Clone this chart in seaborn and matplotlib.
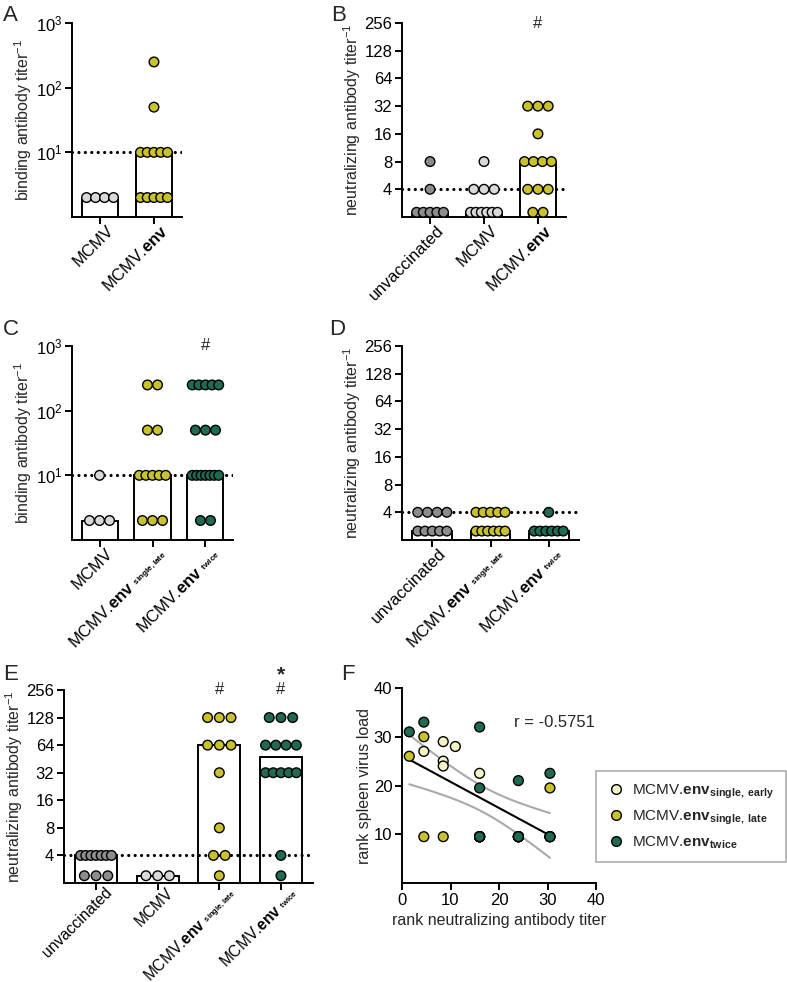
import warnings
warnings.filterwarnings('ignore')
import numpy as np
import pandas as pd
import matplotlib
matplotlib.use('Agg')
import matplotlib.pyplot as plt
import matplotlib.transforms as mtransforms
import seaborn as sns
from matplotlib.lines import Line2D
from matplotlib.ticker import NullLocator

sns.set_theme(style='ticks')
plt.rcParams['font.family'] = ['Liberation Sans', 'DejaVu Sans']
plt.rcParams['mathtext.fontset'] = 'custom'
plt.rcParams['mathtext.rm'] = 'Liberation Sans'
plt.rcParams['mathtext.it'] = 'Liberation Sans:italic'
plt.rcParams['mathtext.bf'] = 'Liberation Sans:bold'
plt.rcParams['mathtext.sf'] = 'Liberation Sans'

# ---------------- labels ----------------
LBL_UNVAC = 'unvaccinated'
LBL_MCMV = 'MCMV'
LBL_ENV = r'MCMV.$\mathbf{env}$'
LBL_LATE = r'MCMV.$\mathbf{env}\ {}_{{}^{\mathbf{single,late}}}$'
LBL_TWICE = r'MCMV.$\mathbf{env}\ {}_{{}^{\mathbf{twice}}}$'

# ---------------- colours ----------------
C_UNVAC = '#8c8c8c'
C_MCMV = '#d9d9d9'
C_ENV = '#c9c22b'
C_TWICE = '#1e6b50'
C_EARLY = '#f6f2c4'

# ---------------- data ----------------
# Panel A: binding antibody titer
A_cats = [LBL_MCMV, LBL_ENV]
A_mcmv = [2, 2, 2, 2]
A_env = [250, 50, 10, 10, 10, 10, 10, 2, 2, 2, 2, 2]

# Panel B: neutralizing antibody titer
B_cats = [LBL_UNVAC, LBL_MCMV, LBL_ENV]
B_unvac = [8, 4, 2.25, 2.25, 2.25, 2.25, 2.25]
B_mcmv = [8, 4, 4, 4, 2.25, 2.25, 2.25, 2.25, 2.25, 2.25]
B_env = [32, 32, 32, 16, 8, 8, 8, 8, 4, 4, 4, 2.25, 2.25]

# Panel C: binding antibody titer
C_cats = [LBL_MCMV, LBL_LATE, LBL_TWICE]
C_mcmv = [10, 2, 2, 2]
C_late = [250, 250, 50, 50, 10, 10, 10, 10, 10, 2, 2, 2]
C_twice = [250, 250, 250, 250, 250, 50, 50, 50, 10, 10, 10, 10, 10, 10, 10, 2, 2]

# Panel D: neutralizing antibody titer
D_cats = [LBL_UNVAC, LBL_LATE, LBL_TWICE]
D_unvac = [4, 4, 4, 4, 2.5, 2.5, 2.5, 2.5, 2.5]
D_late = [4, 4, 4, 4, 4, 2.5, 2.5, 2.5, 2.5, 2.5, 2.5]
D_twice = [4, 2.5, 2.5, 2.5, 2.5, 2.5, 2.5]

# Panel E: neutralizing antibody titer
E_cats = [LBL_UNVAC, LBL_MCMV, LBL_LATE, LBL_TWICE]
E_unvac = [4, 4, 4, 4, 4, 4, 4, 2.4, 2.4, 2.4]
E_mcmv = [2.4, 2.4, 2.4]
E_late = [128, 128, 128, 64, 64, 64, 32, 8, 4, 4, 2.4]
E_twice = [128, 128, 128, 64, 64, 64, 64, 32, 32, 32, 32, 32, 4, 2.4]

# Panel F: rank correlation
F_early = 'early'
F_late = 'late'
F_twice = 'twice'
F_order = [F_early, F_late, F_twice]
F_labels = [r'MCMV.$\mathbf{env}_{\mathbf{single,\ early}}$',
            r'MCMV.$\mathbf{env}_{\mathbf{single,\ late}}$',
            r'MCMV.$\mathbf{env}_{\mathbf{twice}}$']
F_early_x = [4.5, 8.5, 8.5, 8.5, 11, 16, 16, 16]
F_early_y = [27, 29, 25, 24, 28, 22.5, 9.5, 9.5]
F_late_x = [1.5, 4.5, 4.5, 8.5, 16, 24, 24, 24, 30.5, 30.5, 30.5]
F_late_y = [26, 30, 9.5, 9.5, 9.5, 9.5, 9.5, 9.5, 19.5, 9.5, 9.5]
F_twice_x = [1.5, 4.5, 16, 16, 16, 16, 16, 24, 24, 24, 24, 30.5, 30.5, 30.5]
F_twice_y = [31, 33, 32, 19.5, 9.5, 9.5, 9.5, 21, 9.5, 9.5, 9.5, 22.5, 9.5, 9.5]
F_r_text = 'r = -0.5751'

# ---------------- figure ----------------
W, H = 787, 982
fig = plt.figure(figsize=(W / 100, H / 100), dpi=100)


def add_ax(x0, x1, y0, y1):
    return fig.add_axes([x0 / W, 1 - y1 / H, (x1 - x0) / W, (y1 - y0) / H])


LW = 1.4
FS_T = 12
FS_L = 11.5


def style_axis(ax):
    sns.despine(ax=ax)
    for s in ['left', 'bottom']:
        ax.spines[s].set_linewidth(LW)
        ax.spines[s].set_color('black')
    ax.tick_params(width=LW, length=5, labelsize=FS_T, color='black',
                   labelcolor='black', pad=2)


def dodge(idx, values, span=0.5, step=0.19):
    """Horizontal scatter-dot layout: equal values side by side (GraphPad style)."""
    vals = np.asarray(values, float)
    xs = np.empty(len(vals))
    for v in np.unique(vals):
        m = np.where(vals == v)[0]
        k = len(m)
        st = min(step, span / (k - 1)) if k > 1 else 0.0
        xs[m] = idx + (np.arange(k) - (k - 1) / 2) * st
    return xs


def bar_panel(ax, cats, vals, colors, base, ylim, yticks, ytlabels, lod, ylabel,
              shift=(6, 4), xfs=FS_T):
    ax.set_yscale('log', base=base)
    groups, titers, xpos = [], [], []
    for i, (c, v) in enumerate(zip(cats, vals)):
        groups += [c] * len(v)
        titers += list(v)
        xpos += list(dodge(i, v))
    df = pd.DataFrame({'group': groups, 'titer': titers, 'xpos': xpos})
    med = df.groupby('group', sort=False)['titer'].median().reindex(cats).reset_index()
    med['pos'] = np.arange(len(cats))
    sns.barplot(data=med, x='pos', y='titer', native_scale=True, color='white',
                edgecolor='black', linewidth=LW, width=0.68, ax=ax, zorder=1,
                saturation=1)
    ax.axhline(lod, color='black', lw=2.3, ls=(0, (0.01, 2.0)),
               dash_capstyle='round', zorder=2)
    sns.scatterplot(data=df, x='xpos', y='titer', hue='group', hue_order=cats,
                    palette=dict(zip(cats, colors)), s=48, edgecolor='black',
                    linewidth=1.0, ax=ax, legend=False, zorder=3, clip_on=False)
    n = len(cats)
    ax.set_xlim(-0.52, n - 1 + 0.52)
    ax.set_ylim(*ylim)
    ax.yaxis.set_minor_locator(NullLocator())
    ax.xaxis.set_minor_locator(NullLocator())
    ax.set_yticks(yticks)
    ax.set_yticklabels(ytlabels)
    ax.set_xticks(range(n))
    ax.set_xlabel('')
    ax.set_ylabel(ylabel, fontsize=FS_L, labelpad=1)
    style_axis(ax)
    ax.set_xticklabels(cats, rotation=45, ha='right', rotation_mode='anchor',
                       fontsize=xfs)
    off = mtransforms.ScaledTranslation(shift[0] / 100, shift[1] / 100,
                                        fig.dpi_scale_trans)
    for lbl in ax.get_xticklabels():
        lbl.set_transform(lbl.get_transform() + off)


YL_BIND = r'binding antibody titer$^{-1}$'
YL_NEUT = r'neutralizing antibody titer$^{-1}$'
LOG10_T = [10, 100, 1000]
LOG10_L = [r'$10^1$', r'$10^2$', r'$10^3$']
LOG2_T = [4, 8, 16, 32, 64, 128, 256]
LOG2_L = [str(t) for t in LOG2_T]

# A
axA = add_ax(72, 182, 23, 217)
bar_panel(axA, A_cats, [A_mcmv, A_env], [C_MCMV, C_ENV], 10, (1, 1000),
          LOG10_T, LOG10_L, 10, YL_BIND)

# B
axB = add_ax(402, 566, 23, 217)
bar_panel(axB, B_cats, [B_unvac, B_mcmv, B_env], [C_UNVAC, C_MCMV, C_ENV], 2,
          (2, 256), LOG2_T, LOG2_L, 4, YL_NEUT)
axB.text(2, 256, '#', ha='center', va='center', fontsize=FS_T, clip_on=False)

# C
axC = add_ax(72, 233, 346, 540)
bar_panel(axC, C_cats, [C_mcmv, C_late, C_twice], [C_MCMV, C_ENV, C_TWICE], 10,
          (1, 1000), LOG10_T, LOG10_L, 10, YL_BIND)
axC.text(2, 1000, '#', ha='center', va='center', fontsize=FS_T, clip_on=False)

# D
axD = add_ax(402, 579, 346, 540)
bar_panel(axD, D_cats, [D_unvac, D_late, D_twice], [C_UNVAC, C_ENV, C_TWICE], 2,
          (2, 256), LOG2_T, LOG2_L, 4, YL_NEUT)

# E
axE = add_ax(64, 313, 690, 883)
bar_panel(axE, E_cats, [E_unvac, E_mcmv, E_late, E_twice],
          [C_UNVAC, C_MCMV, C_ENV, C_TWICE], 2, (2, 256), LOG2_T, LOG2_L, 4, YL_NEUT,
          shift=(8, 8), xfs=11.2)
axE.text(2, 256, '#', ha='center', va='center', fontsize=FS_T, clip_on=False)
axE.text(3, 256, '#', ha='center', va='center', fontsize=FS_T, clip_on=False)
axE.annotate('*', xy=(3, 256), xytext=(0, 11), textcoords='offset points',
             ha='center', va='center', fontsize=15, fontweight='bold',
             annotation_clip=False)

# F
axF = add_ax(402, 596, 688, 883)
dfF = pd.DataFrame({
    'x': F_early_x + F_late_x + F_twice_x,
    'y': F_early_y + F_late_y + F_twice_y,
    'group': [F_early] * len(F_early_x) + [F_late] * len(F_late_x) + [F_twice] * len(F_twice_x),
})
F_colors = [C_EARLY, C_ENV, C_TWICE]
sns.scatterplot(data=dfF, x='x', y='y', hue='group', hue_order=F_order,
                palette=dict(zip(F_order, F_colors)), s=50, edgecolor='black',
                linewidth=1.0, ax=axF, legend=False, zorder=3)
# linear regression with 95% confidence band
xv = dfF['x'].to_numpy(float)
yv = dfF['y'].to_numpy(float)
n = len(xv)
b1, b0 = np.polyfit(xv, yv, 1)
resid = yv - (b0 + b1 * xv)
s_err = np.sqrt(np.sum(resid ** 2) / (n - 2))
sxx = np.sum((xv - xv.mean()) ** 2)
t_crit = 2.04
xs = np.linspace(xv.min(), xv.max(), 100)
yfit = b0 + b1 * xs
half = t_crit * s_err * np.sqrt(1 / n + (xs - xv.mean()) ** 2 / sxx)
axF.plot(xs, yfit, color='black', lw=1.5, zorder=2)
axF.plot(xs, yfit + half, color='#aaaaaa', lw=1.5, zorder=1)
axF.plot(xs, yfit - half, color='#aaaaaa', lw=1.5, zorder=1)
axF.set_xlim(0, 40)
axF.set_ylim(0, 40)
axF.set_xticks([0, 10, 20, 30, 40])
axF.set_yticks([10, 20, 30, 40])
axF.set_xlabel('rank neutralizing antibody titer', fontsize=FS_L)
axF.set_ylabel('rank spleen virus load', fontsize=FS_L, labelpad=1)
axF.text(23, 33, F_r_text, ha='left', va='center', fontsize=FS_T)
style_axis(axF)

handles = [Line2D([], [], marker='o', ls='', markerfacecolor=c,
                  markeredgecolor='black', markeredgewidth=1.0, markersize=7)
           for c in F_colors]
leg = fig.legend(handles, F_labels, loc='upper left',
                 bbox_to_anchor=(596 / W, 1 - 771 / H), frameon=True,
                 fancybox=False, edgecolor='#999999', fontsize=11,
                 handletextpad=0.5, borderpad=0.75, labelspacing=0.5,
                 handlelength=1.1, borderaxespad=0)
leg.get_frame().set_linewidth(1.2)

# panel letters
for letter, (px, py) in {'A': (3, 5), 'B': (331, 5), 'C': (3, 319), 'D': (329, 319),
                         'E': (3, 664), 'F': (341, 664)}.items():
    fig.text(px / W, 1 - py / H, letter, fontsize=16, ha='left', va='top')

fig.savefig('out.png', dpi=100)
